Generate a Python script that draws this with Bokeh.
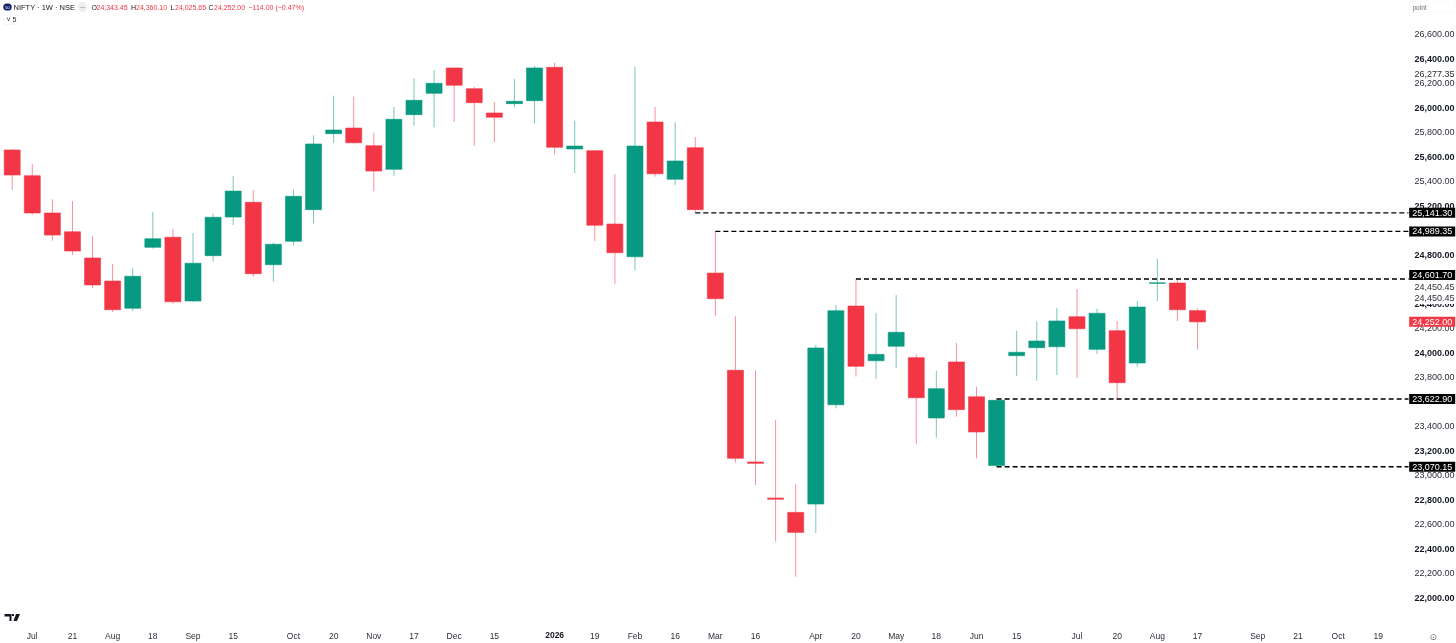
from bokeh.plotting import figure
from bokeh.models import (ColumnDataSource, FixedTicker, NumeralTickFormatter, Label, LinearAxis,
                          Range1d, PolyAnnotation, BoxAnnotation)
from bokeh.embed import file_html
from bokeh.resources import INLINE

opens = [25654,25444,25140,24987,24773,24585,24363,24860,24942,24422,
         24792,25107,25227,24718,24909,25167,25787,25833,25689,25496,
         25942,26116,26323,26154,25956,26032,26056,26328,25662,25648,
         25050,24783,25882,25415,25673,24650,23857,23109,22815,22698,
         22766,23576,24381,23935,24053,23960,23468,23925,23641,23080,
         23976,24041,24049,24294,24028,24180,23916,24566,24569,24343.45]
highs = [25660,25537,25252,25238,24952,24726,24694,25148,25012,24977,
         25137,25442,25327,24898,25330,25774,26097,26089,25795,26005,
         26239,26306,26325,26170,26045,26233,26339,26366,25893,25650,
         25456,26333,26005,25880,25760,24989.35,24297,23857,23454,22927,
         24063,24390,24601.70,24324,24471,23987,23851,24080,23723,23622.90,
         24180,24253,24367,24520,24359,24259,24422,24767,24607,24360.10]
lows = [25328,25126,24914,24797,24528,24332,24340,24849,24400,24416,
        24743,25042,24620,24580,24877,25056,25711,25705,25317,25442,
        25852,25839,25882,25689,25717,26005,25872,25619,25466,24912,
        24563,24672,25436,25368,25141.30,24297,23103,22921,22459,22173,
        22530,23547,23805,23788,23876,23253,23307,23478,23139,23070.15,
        23810,23772,23818,23794,23990,23622.90,23886,24422,24259,24025.65]
closes = [25450,25140,24960,24830,24553,24351,24624,24930,24416,24730,
          25105,25319,24645,24885,25276,25703,25817,25713,25482,25904,
          26059,26198,26182,26040,25921,26051,26323,25676,25686,25040,
          24816,25686,25460,25564,25167,24441,23139,23098,22805,22535,
          24039,24343,23889,23987,24167,23633,23707,23536,23354,23612,
          24004,24096,24259,24196,24322,23756,24373,24571,24351,24252]

price_ticks = [22200,22600,23000,23400,23800,24200,25400,25800,26200,26600,26277.35]
bold_ticks = [22000,22400,22800,23200,24000,24400,24800,25200,25600,26000,26400]
date_pos = [1,3,5,7,9,11,14,16,18,20,22,24,29,31,33,35,37,40,42,44,46,48,50,53,55,57,59,62,64,66,68]
date_lab = ["Jul","21","Aug","18","Sep","15","Oct","20","Nov","17","Dec","15","19","Feb","16",
            "Mar","16","Apr","20","May","18","Jun","15","Jul","20","Aug","17","Sep","21","Oct","19"]
year_pos = [27]
year_lab = ["2026"]
level_start = [34,35,42,49,49]
level_price = [25141.30,24989.35,24601.70,23622.90,23070.15]
level_text = ["25,141.30","24,989.35","24,601.70","23,622.90","23,070.15"]
level_nudge = [0,0,4,0,0]
stacked_price = 24450.45
stacked_text = "24,450.45"
stacked_nudge = [11, 0]
header_parts = [("O",91,"#131722"),("24,343.45",96,"#F23645"),("H",130.5,"#131722"),("24,360.10",135.5,"#F23645"),
                ("L",170,"#131722"),("24,025.65",174.5,"#F23645"),("C",208,"#131722"),("24,252.00",213.5,"#F23645"),
                ("\u2212114.00 (\u22120.47%)",248,"#F23645")]

RED = "#F23645"
GREEN = "#089981"
W, H = 1456, 643
PLOT_R, PLOT_B = 1408, 625
PX_BAR = 20.09
PX_PRICE = 0.1226
x0 = -11.7 / PX_BAR
y_top = 26600 + 33.5 / PX_PRICE
x_range = Range1d(x0, x0 + W / PX_BAR)
y_range = Range1d(y_top - H / PX_PRICE, y_top)
x_edge = x0 + PLOT_R / PX_BAR
y_edge = y_top - PLOT_B / PX_PRICE

p = figure(width=W, height=H, x_range=x_range, y_range=y_range,
           output_backend="svg", toolbar_location=None, x_axis_location="below", y_axis_location="right",
           min_border=0, min_border_left=0, min_border_right=0, min_border_top=0, min_border_bottom=0,
           background_fill_color="white", border_fill_color="white", outline_line_color=None)
p.styles = {"position": "fixed", "left": "0px", "top": "0px"}
p.grid.visible = False

idx = list(range(len(opens)))
src = ColumnDataSource(dict(
    x=idx, o=opens, h=highs, l=lows, c=closes,
    top=[max(a, b) for a, b in zip(opens, closes)],
    bot=[min(a, b) for a, b in zip(opens, closes)],
    col=[GREEN if c >= o else RED for o, c in zip(opens, closes)],
))
p.segment("x", "h", "x", "l", source=src, line_color="col", line_alpha=0.55, line_width=1)
p.vbar("x", width=16 / PX_BAR, top="top", bottom="bot", source=src, fill_color="col", line_color="col", line_width=0.6)

p.segment(level_start, level_price, [x_edge] * 5, level_price, line_color="black", line_width=1.3, line_dash="5 3")


def style_axis(ax, size, color, style="normal", standoff=6):
    ax.axis_line_color = None
    ax.major_tick_line_color = None
    ax.minor_tick_line_color = None
    ax.major_tick_out = 0
    ax.major_tick_in = 0
    ax.major_label_standoff = standoff
    ax.major_label_text_font = "Liberation Sans"
    ax.major_label_text_font_size = size
    ax.major_label_text_color = color
    ax.major_label_text_font_style = style


yax = p.yaxis[0]
yax.ticker = FixedTicker(ticks=price_ticks)
yax.formatter = NumeralTickFormatter(format="0,0.00")
yax.fixed_location = x_edge
style_axis(yax, "9px", "#2A2E39")

yax2 = LinearAxis(ticker=FixedTicker(ticks=bold_ticks), formatter=NumeralTickFormatter(format="0,0.00"),
                  fixed_location=x_edge)
style_axis(yax2, "9px", "#131722", "bold")
p.add_layout(yax2, "right")

xax = p.xaxis[0]
xax.ticker = FixedTicker(ticks=date_pos)
xax.major_label_overrides = dict(zip(date_pos, date_lab))
xax.fixed_location = y_edge
style_axis(xax, "8.5px", "#2A2E39", standoff=5)

xax2 = LinearAxis(ticker=FixedTicker(ticks=year_pos), fixed_location=y_edge,
                  major_label_overrides=dict(zip(year_pos, year_lab)))
style_axis(xax2, "8.5px", "#131722", "bold")
p.add_layout(xax2, "below")


def yflip(py):
    return H - py


def price_px(v):
    return (y_top - v) * PX_PRICE


def note(text, px, py, size="8px", color="#131722", font="Liberation Sans", align="left", style="normal", **kw):
    lab = Label(x=px, y=yflip(py), x_units="screen", y_units="screen", text=text, text_font=font,
                text_font_size=size, text_color=color, text_align=align, text_baseline="middle",
                text_font_style=style, **kw)
    p.add_layout(lab)
    return lab


def box(left, right, top, bottom, fill, alpha=1, line=None):
    p.add_layout(BoxAnnotation(left=left, right=right, top=yflip(top), bottom=yflip(bottom), left_units="screen",
                               right_units="screen", top_units="screen", bottom_units="screen", fill_color=fill,
                               fill_alpha=alpha, line_color=line, line_width=1, level="overlay"))


def tag(text, py, fill):
    box(1408.7, 1454.7, py - 5, py + 5, fill)
    note(text, 1431.7, py, size="9px", color="white", align="center", level="overlay")


# 24,450.45 appears twice, one pushed upward, each masking what lies behind it
for nd in stacked_nudge[::-1]:
    py = price_px(stacked_price) - nd
    box(1412, 1456, py - 4, py + 6.5, "white")
    note(stacked_text, 1414, py, size="9px", color="#2A2E39", level="overlay")

# price tags
for pr, tx, nd in zip(level_price, level_text, level_nudge):
    tag(tx, price_px(pr) - nd, "black")
tag("24,252.00", price_px(closes[-1]), RED)

# header
note("50", 7, 6.5, size="4px", color="white", align="center", background_fill_color="#131F6B", padding=(2, 2), border_radius=5)
note("NIFTY \u00b7 1W \u00b7 NSE", 13, 6.5, size="7.5px")
note("\u2014", 82, 6.5, size="5px", color="#6A6D78", align="center", background_fill_color="#EDEEF0", padding=(2, 2), border_radius=5)
for tx, xp, col in header_parts:
    note(tx, xp, 6.5, size="7px", color=col)
note("\u02c5 5", 6, 19.3, size="7px", color="#2A2E39")
box(3, 17, 14.5, 24, "white", 0, "#E0E1E4")

# scale-mode box
note("point", 1412, 6.5, size="6.5px", color="#6A6D78")
box(1409, 1455, 1, 12, "white", 0, "#F0F0F2")

# small settings mark
note("\u2299", 1432.7, 636, size="9px", color="#6A6D78", font="DejaVu Sans", align="center")

# brand mark
logo_parts = [
    ([4, 11, 11, 9, 9, 4], [613.5, 613.5, 620.5, 620.5, 616, 616]),
    ([15.5, 19.5, 16.5, 13], [613.5, 613.5, 620.5, 620.5]),
    ([11.5, 13.5, 13.5, 11.5], [613.5, 613.5, 615.5, 615.5]),
]
for xs, ys in logo_parts:
    p.add_layout(PolyAnnotation(xs=xs, ys=[yflip(v) for v in ys], xs_units="screen", ys_units="screen",
                                fill_color="#131722", fill_alpha=1, line_color=None, level="overlay"))

open("out.html", "w").write(file_html(p, INLINE))
